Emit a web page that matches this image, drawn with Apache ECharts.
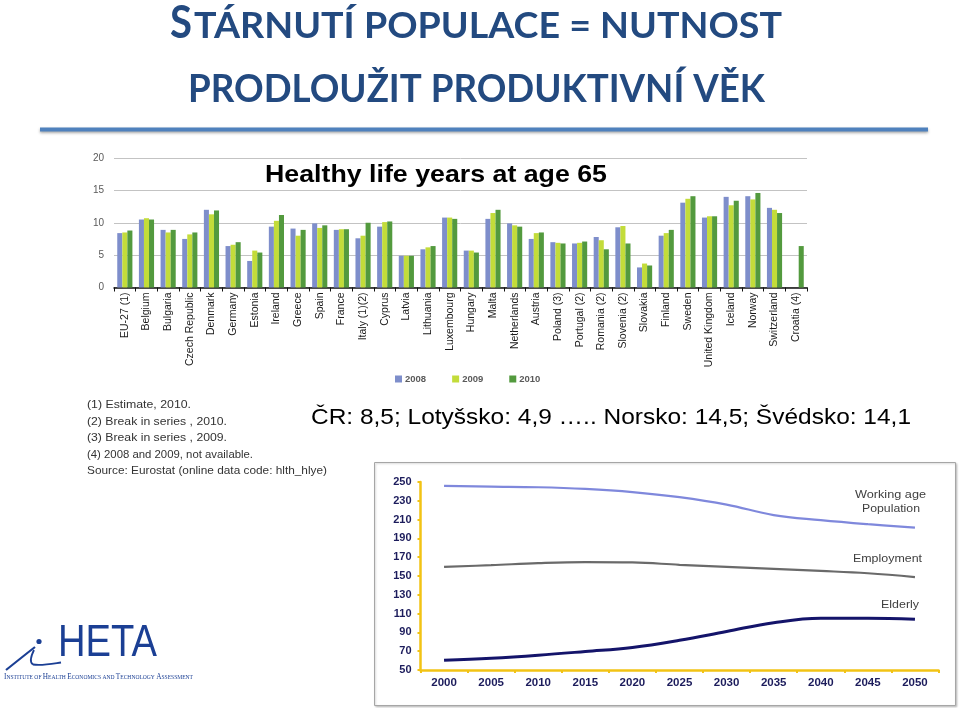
<!DOCTYPE html>
<html><head><meta charset="utf-8">
<script src="https://cdn.jsdelivr.net/npm/echarts@6/dist/echarts.min.js"></script>
<style>html,body{margin:0;padding:0;background:#fff}#c{width:959px;height:708px}</style>
</head><body><div id="c"></div>
<script>
// ---------- DATA ----------
const countries = ['EU-27 (1)','Belgium','Bulgaria','Czech Republic','Denmark','Germany','Estonia','Ireland','Greece','Spain','France','Italy (1)(2)','Cyprus','Latvia','Lithuania','Luxembourg','Hungary','Malta','Netherlands','Austria','Poland (3)','Portugal (2)','Romania (2)','Slovenia (2)','Slovakia','Finland','Sweden','United Kingdom','Iceland','Norway','Switzerland','Croatia (4)'];
const hly2008 = [8.4,10.5,8.9,7.5,12.0,6.4,4.1,9.4,9.1,9.9,8.9,7.6,9.4,4.9,5.9,10.8,5.7,10.6,9.9,7.5,7.0,6.8,7.8,9.3,3.1,8.0,13.1,10.8,14.0,14.1,12.3,null];
const hly2009 = [8.5,10.7,8.5,8.2,11.3,6.6,5.7,10.3,8.0,9.2,9.0,8.0,10.1,4.9,6.2,10.8,5.7,11.5,9.6,8.4,6.9,6.9,7.3,9.5,3.7,8.4,13.7,11.0,12.7,13.6,12.0,null];
const hly2010 = [8.8,10.5,8.9,8.5,11.9,7.0,5.4,11.2,8.9,9.6,9.0,10.0,10.2,4.9,6.4,10.6,5.4,12.0,9.4,8.5,6.8,7.1,5.9,6.8,3.4,8.9,14.1,11.0,13.4,14.6,11.5,6.4];
const barSeriesNames = ['2008','2009','2010'];
const barYTicks = {min:0, max:20, step:5};

const projYears = ['2000','2005','2010','2015','2020','2025','2030','2035','2040','2045','2050'];
const workingAge = [245.8,245.1,244.4,242.6,239.3,233.9,226.0,214.8,209.4,205.1,201.5];
const employment = [159.7,161.5,163.7,164.8,164.4,161.9,159.7,157.5,155.4,152.9,148.9];
const elderly    = [60.3,62.5,65.7,69.7,74.0,81.6,91.0,100.3,105.0,105.0,103.9];
const lineYTicks = {min:50, max:250, step:20};

const footnotes = ['(1) Estimate, 2010.','(2) Break in series , 2010.','(3) Break in series , 2009.','(4) 2008 and 2009, not available.','Source: Eurostat (online data code: hlth_hlye)'];
const mainTitle1a = 'S';
const mainTitle1b = 'TÁRNUTÍ POPULACE = NUTNOST';
const mainTitle2 = 'PRODLOUŽIT PRODUKTIVNÍ VĚK';
const barTitle = 'Healthy life years at age 65';
const summaryText = 'ČR: 8,5; Lotyšsko: 4,9 ….. Norsko: 14,5; Švédsko: 14,1';
const lineLabels = ['Working age','Population','Employment','Elderly'];
const logoText = 'HETA';
const logoSub = 'Institute of Health Economics and Technology Assessment';

// ---------- helpers ----------
const mctx = document.createElement('canvas').getContext('2d');
function measure(txt, font){ mctx.font = font; return mctx.measureText(txt).width; }
function fitText(txt, x, y, font, width, color, align){
  align = align || 'left';
  const w = measure(txt, font);
  return {type:'text', x:x, y:y, scaleX: width / w, silent:true, z:10,
    style:{text:txt, font:font, fill:color, align:align, textAlign:align, verticalAlign:'middle', textVerticalAlign:'middle'}};
}
function smallCaps(str, bigFont, smallFont){
  let rich = '', width = 0;
  str.split(' ').forEach((wd, i) => {
    if (i > 0) { rich += '{s| }'; width += measure(' ', smallFont); }
    const first = wd[0], rest = wd.slice(1).toUpperCase();
    if (first === first.toUpperCase()) {
      rich += '{b|' + first + '}'; width += measure(first, bigFont);
      if (rest) { rich += '{s|' + rest + '}'; width += measure(rest, smallFont); }
    } else {
      rich += '{s|' + wd.toUpperCase() + '}'; width += measure(wd.toUpperCase(), smallFont);
    }
  });
  return {rich, width};
}

const titleColor = '#234a80';
const graphics = [];
graphics.push(fitText(mainTitle1a, 170, 23.5, 'bold 46px Lato', 22, titleColor));
graphics.push(fitText(mainTitle1b, 194, 26.5, 'bold 36px Lato', 588, titleColor));
graphics.push(fitText(mainTitle2, 188, 89.5, 'bold 39px Lato', 577, titleColor));
graphics.push({type:'rect', silent:true, shape:{x:40, y:127.5, width:888, height:4},
  style:{fill:'#4f81bd', shadowBlur:3, shadowColor:'rgba(0,0,0,0.35)', shadowOffsetY:1.5}});
graphics.push(fitText(barTitle, 265, 175, 'bold 24px "Liberation Sans", Arial', 342, '#000'));
const fnY = [405, 421.5, 438, 454.5, 471];
const fnW = [104, 140, 140, 166, 240];
footnotes.forEach((t, i) => graphics.push(fitText(t, 87, fnY[i], '11px "Liberation Sans", Arial', fnW[i], '#333')));
graphics.push(fitText(summaryText, 311, 418, '22px "Liberation Sans", Arial', 600, '#000'));
graphics.push({type:'rect', silent:true, z:-1, shape:{x:374.5, y:462.5, width:581, height:243},
  style:{fill:'#fff', stroke:'#a6a6a6', lineWidth:1, shadowBlur:2, shadowColor:'rgba(0,0,0,0.2)', shadowOffsetX:1, shadowOffsetY:1}});
const llFont = '11px "Liberation Sans", Arial';
graphics.push(fitText(lineLabels[0], 926, 495, llFont, 71, '#404040', 'right'));
graphics.push(fitText(lineLabels[1], 920, 508.5, llFont, 58, '#404040', 'right'));
graphics.push(fitText(lineLabels[2], 922, 558.5, llFont, 69, '#404040', 'right'));
graphics.push(fitText(lineLabels[3], 919, 605, llFont, 38, '#404040', 'right'));
// logo
const logoColor = '#1b3f94';
graphics.push(fitText(logoText, 58, 644, '45px "Liberation Sans", Arial', 99, logoColor));
graphics.push({type:'circle', silent:true, shape:{cx:39, cy:641.5, r:2.6}, style:{fill:logoColor}});
graphics.push({type:'bezierCurve', silent:true, shape:{x1:6, y1:670, cpx1:16, cpy1:662, cpx2:26, cpy2:654, x2:35, y2:647},
  style:{fill:'none', stroke:logoColor, lineWidth:2.2}});
graphics.push({type:'bezierCurve', silent:true, shape:{x1:34, y1:650, cpx1:31, cpy1:656, cpx2:29, cpy2:662, x2:33, y2:664.5},
  style:{fill:'none', stroke:logoColor, lineWidth:1.8}});
graphics.push({type:'bezierCurve', silent:true, shape:{x1:33, y1:664.5, cpx1:41, cpy1:666, cpx2:51, cpy2:664, x2:61, y2:662.5},
  style:{fill:'none', stroke:logoColor, lineWidth:1.8}});
(function(){
  const bigF = '8.5px "Liberation Serif", serif', smF = '6.5px "Liberation Serif", serif';
  const sc = smallCaps(logoSub, bigF, smF);
  graphics.push({type:'text', x:4, y:677, scaleX:189 / sc.width, silent:true,
    style:{text:sc.rich, fill:logoColor, align:'left', textAlign:'left', verticalAlign:'middle', textVerticalAlign:'middle',
      rich:{b:{font:bigF, fill:logoColor}, s:{font:smF, fill:logoColor}}}});
})();

// ---------- CHART ----------
const chart = echarts.init(document.getElementById('c'), null, {renderer:'canvas'});
const navy = '#1c1c5c', yellow = '#f2c314';
const option = {
  animation:false,
  backgroundColor:'#ffffff',
  textStyle:{fontFamily:'"Liberation Sans", Arial'},
  legend:{
    data:barSeriesNames, left:390, top:369, icon:'rect', itemWidth:7, itemHeight:7, itemGap:26,
    textStyle:{fontSize:9.5, fontWeight:'bold', color:'#5a5a5a', padding:[0,0,0,-2]}
  },
  grid:[
    {left:114, top:158, width:693, height:129.5},
    {left:420.5, top:482, width:518, height:188}
  ],
  xAxis:[
    {type:'category', gridIndex:0, data:countries,
      axisLine:{lineStyle:{color:'#111', width:1.5}},
      axisTick:{show:true, length:4, lineStyle:{color:'#111', width:1}},
      axisLabel:{rotate:90, interval:0, fontSize:10.5, color:'#1a1a1a', margin:5}},
    {type:'category', gridIndex:1, data:projYears,
      axisLine:{lineStyle:{color:yellow, width:2.5}},
      axisTick:{show:true, length:3, lineStyle:{color:yellow, width:2}},
      axisLabel:{interval:0, fontSize:11.5, fontWeight:'bold', color:navy, margin:7}}
  ],
  yAxis:[
    {type:'value', gridIndex:0, min:barYTicks.min, max:barYTicks.max, interval:barYTicks.step,
      axisLine:{show:false}, axisTick:{show:false},
      axisLabel:{fontSize:10, color:'#5a5a5a', margin:10},
      splitLine:{lineStyle:{color:'#c3c3c3', width:1}}},
    {type:'value', gridIndex:1, min:lineYTicks.min, max:lineYTicks.max, interval:lineYTicks.step,
      axisLine:{show:true, lineStyle:{color:yellow, width:2.5}},
      axisTick:{show:true, length:3, lineStyle:{color:yellow, width:2}},
      axisLabel:{fontSize:11, fontWeight:'bold', color:navy, margin:9},
      splitLine:{show:false}}
  ],
  series:[
    {name:barSeriesNames[0], type:'bar', xAxisIndex:0, yAxisIndex:0, data:hly2008, barGap:'0%', barCategoryGap:'30%', itemStyle:{color:'#7e8ecb'}},
    {name:barSeriesNames[1], type:'bar', xAxisIndex:0, yAxisIndex:0, data:hly2009, barGap:'0%', barCategoryGap:'30%', itemStyle:{color:'#c3dc3a'}},
    {name:barSeriesNames[2], type:'bar', xAxisIndex:0, yAxisIndex:0, data:hly2010, barGap:'0%', barCategoryGap:'30%', itemStyle:{color:'#539a3e'}},
    {name:'Working age Population', type:'line', xAxisIndex:1, yAxisIndex:1, data:workingAge, smooth:0.4, symbol:'none', lineStyle:{color:'#7f88dc', width:2.2}},
    {name:'Employment', type:'line', xAxisIndex:1, yAxisIndex:1, data:employment, smooth:0.4, symbol:'none', lineStyle:{color:'#6a6a6a', width:2.2}},
    {name:'Elderly', type:'line', xAxisIndex:1, yAxisIndex:1, data:elderly, smooth:0.4, symbol:'none', lineStyle:{color:'#14146a', width:3}}
  ],
  graphic: graphics
};
chart.setOption(option);
</script></body></html>
